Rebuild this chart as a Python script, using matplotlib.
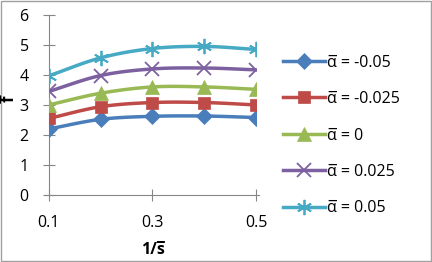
import matplotlib
import matplotlib.pyplot as plt
import numpy as np
from matplotlib.patches import Rectangle

matplotlib.use("Agg")

x_values = [0.1, 0.2, 0.3, 0.4, 0.5]
series_labels = ["α\u0305 = -0.05", "α\u0305 = -0.025", "α\u0305 = 0", "α\u0305 = 0.025", "α\u0305 = 0.05"]
f_m050 = [2.2, 2.52, 2.62, 2.63, 2.58]
f_m025 = [2.55, 2.94, 3.08, 3.08, 3.0]
f_zero = [3.0, 3.39, 3.6, 3.6, 3.52]
f_p025 = [3.45, 3.98, 4.2, 4.23, 4.17]
f_p050 = [3.97, 4.57, 4.88, 4.95, 4.85]

colors = ["#4A7EBB", "#BE4B48", "#98B954", "#7D60A0", "#46AAC5"]
markers = ["D", "s", "^", "x", (6, 2, 0)]
sizes = [8, 9, 10, 10, 11]


def smooth(xs, ys, n=20):
    # Catmull-Rom curve through the points, like Excel's smoothed line
    xs = np.asarray(xs, float)
    ys = np.asarray(ys, float)
    px = np.concatenate([[2 * xs[0] - xs[1]], xs, [2 * xs[-1] - xs[-2]]])
    py = np.concatenate([[2 * ys[0] - ys[1]], ys, [2 * ys[-1] - ys[-2]]])
    out_x, out_y = [], []
    t = np.linspace(0, 1, n)
    for i in range(1, len(px) - 2):
        for p, out in ((px, out_x), (py, out_y)):
            p0, p1, p2, p3 = p[i - 1], p[i], p[i + 1], p[i + 2]
            out.extend(0.5 * (2 * p1 + (-p0 + p2) * t
                              + (2 * p0 - 5 * p1 + 4 * p2 - p3) * t ** 2
                              + (-p0 + 3 * p1 - 3 * p2 + p3) * t ** 3))
    return out_x, out_y


plt.rcParams["font.family"] = ["Open Sans", "DejaVu Sans"]

fig = plt.figure(figsize=(4.32, 2.62), dpi=100)
ax = fig.add_axes([0.113, 0.256, 0.48, 0.687])

all_series = [f_m050, f_m025, f_zero, f_p025, f_p050]
for ys, label, color, marker, ms in zip(all_series, series_labels, colors, markers, sizes):
    mew = 1.3 if marker in ("x", (6, 2, 0)) else 0.5
    sx, sy = smooth(x_values, ys)
    ax.plot(sx, sy, color=color, linewidth=2.5, zorder=2)
    ax.plot(x_values, ys, color=color, linestyle="none", marker=marker,
            markersize=ms, markeredgewidth=mew, zorder=3)
    ax.plot([], [], color=color, linewidth=2.5, marker=marker, markersize=ms,
            markeredgewidth=mew, label=label)

ax.set_xlim(0.1, 0.5)
ax.set_ylim(0, 6)
ax.set_xticks([0.1, 0.3, 0.5])
ax.set_yticks(range(7))
ax.set_xticklabels(["0.1", "0.3", "0.5"])

for side in ("top", "right"):
    ax.spines[side].set_visible(False)
for side in ("left", "bottom"):
    ax.spines[side].set_color("#868686")
    ax.spines[side].set_clip_on(False)
ax.spines["bottom"].set_bounds(0.093, 0.505)
ax.tick_params(axis="both", which="major", direction="inout", length=9, color="#868686",
               labelsize=11.5, pad=10)
ax.tick_params(axis="y", length=8, pad=10.5)

ax.set_xlabel("1/s\u0305", fontsize=11.5, fontweight="bold", labelpad=8)
fig.text(11 / 432, 1 - 100 / 262, "f\u0305", rotation=90, fontsize=12,
         fontweight="bold", ha="center", va="center")

ax.legend(loc="center left", bbox_to_anchor=(1.10, 0.33), frameon=False, fontsize=11.5,
          handlelength=2.6, handletextpad=0.15, labelspacing=1.28, borderaxespad=0)

fig.patches.append(Rectangle((0.003, 0.004), 0.994, 0.992, transform=fig.transFigure,
                             fill=False, edgecolor="#A0A0A0", linewidth=1))

fig.savefig("out.png", dpi=100)
plt.close(fig)
